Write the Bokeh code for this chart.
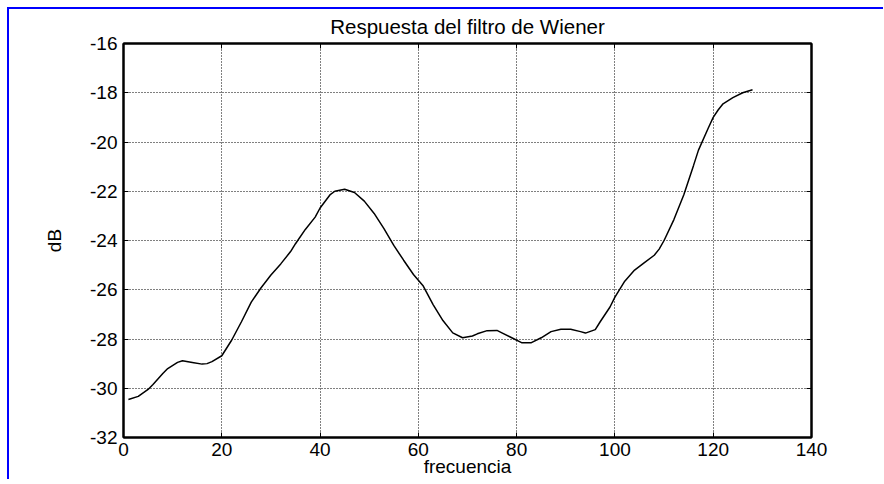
from bokeh.plotting import figure
from bokeh.models import Range1d, LinearAxis, FixedTicker, CustomJSTickFormatter
from bokeh.embed import file_html
from bokeh.resources import INLINE

# Data
freq = [1, 3, 5, 6, 8, 9, 11, 12, 14, 16, 17, 18, 20, 22, 24, 26, 28, 30, 32, 34,
        35, 37, 39, 40, 42, 43, 45, 47, 49, 51, 53, 55, 57, 59, 61, 63, 65, 67, 69, 71,
        72, 74, 76, 77, 79, 81, 83, 85, 87, 89, 91, 93, 94, 96, 97, 99, 100, 102, 104, 106,
        108, 109, 110, 112, 114, 116, 117, 119, 120, 121, 122, 124, 126, 128]
db = [-30.46, -30.33, -30.05, -29.85, -29.4, -29.2, -28.95, -28.88, -28.95, -29.02,
      -29.0, -28.92, -28.68, -28.05, -27.3, -26.5, -25.92, -25.4, -24.95, -24.45,
      -24.13, -23.55, -23.05, -22.68, -22.15, -22.0, -21.92, -22.05, -22.4, -22.9,
      -23.52, -24.2, -24.8, -25.38, -25.85, -26.6, -27.25, -27.75, -27.95, -27.88,
      -27.79, -27.66, -27.65, -27.75, -27.95, -28.15, -28.15, -27.95, -27.7, -27.6,
      -27.6, -27.7, -27.76, -27.62, -27.3, -26.7, -26.3, -25.65, -25.2, -24.9,
      -24.6, -24.35, -24.0, -23.15, -22.15, -20.95, -20.33, -19.43, -19.0, -18.7,
      -18.45, -18.2, -18.0, -17.88]

x_ticks = [0, 20, 40, 60, 80, 100, 120, 140]
y_ticks = [-32, -30, -28, -26, -24, -22, -20, -18, -16]

title_text = "Respuesta del filtro de Wiener"
x_label = "frecuencia"
y_label = "dB"

FONT = "Liberation Sans"
FS = "19px"

p = figure(frame_width=688, frame_height=394,
           x_range=Range1d(0, 140), y_range=Range1d(-32, -16),
           output_backend="svg", toolbar_location=None,
           title=title_text, x_axis_label=x_label, y_axis_label=y_label,
           min_border_left=114, min_border_top=34, min_border_right=72,
           min_border_bottom=0, margin=(7, 0, 0, 7),
           background_fill_color="white", border_fill_color="white",
           styles={"border-left": "2px solid #0000ff", "border-top": "2px solid #0000ff"})

p.title.text_font = FONT
p.title.text_font_size = "20.5px"
p.title.text_font_style = "normal"
p.title.text_color = "black"
p.title.align = "center"
p.title.vertical_align = "top"
p.title.standoff = 8

p.outline_line_color = "black"
p.outline_line_width = 2

def style_axis(ax, ticks, labels=True):
    ax.ticker = FixedTicker(ticks=ticks)
    ax.major_tick_in = 5
    ax.major_tick_out = 0
    ax.minor_tick_in = 0
    ax.minor_tick_out = 0
    ax.minor_tick_line_color = None
    ax.axis_line_color = "black"
    ax.axis_line_width = 2
    ax.major_tick_line_color = "black"
    ax.major_tick_line_width = 1
    ax.major_label_text_font = FONT
    ax.major_label_text_font_size = FS
    ax.major_label_text_color = "black"
    ax.axis_label_text_font = FONT
    ax.axis_label_text_font_size = FS
    ax.axis_label_text_font_style = "normal"
    ax.axis_label_text_color = "black"
    if labels:
        ax.major_label_overrides = {t: str(t) for t in ticks}
    else:
        ax.formatter = CustomJSTickFormatter(code="return ''")
        ax.major_label_standoff = 0

style_axis(p.xaxis[0], x_ticks)
style_axis(p.yaxis[0], y_ticks)
p.xaxis[0].major_label_standoff = 5
p.xaxis[0].axis_label_standoff = -3
p.yaxis[0].major_label_standoff = 6
p.yaxis[0].axis_label_standoff = 22

top_ax = LinearAxis()
style_axis(top_ax, x_ticks, labels=False)
p.add_layout(top_ax, "above")
right_ax = LinearAxis()
style_axis(right_ax, y_ticks, labels=False)
p.add_layout(right_ax, "right")

p.xgrid.ticker = FixedTicker(ticks=x_ticks)
p.ygrid.ticker = FixedTicker(ticks=y_ticks)
for g in (p.xgrid[0], p.ygrid[0]):
    g.grid_line_color = "black"
    g.grid_line_width = 1
    g.grid_line_dash = "1 2"
    g.grid_line_alpha = 1.0

p.line(freq, db, line_color="black", line_width=1.5)

open("out.html", "w").write(file_html(p, INLINE))
